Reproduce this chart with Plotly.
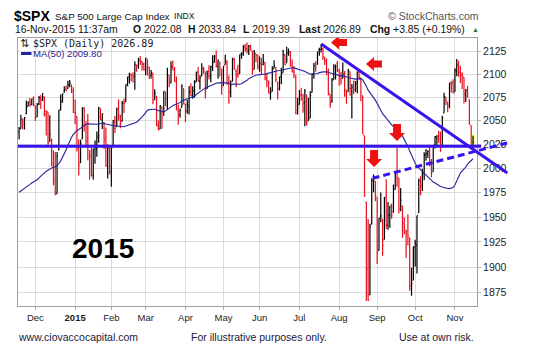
import numpy as np
import pandas as pd
import plotly.graph_objects as go

# ---------------- data ----------------
# trading days shown per month: Nov-2014 (partial) ... Nov-2015 (partial)
month_counts = [9, 22, 20, 19, 22, 21, 20, 22, 22, 21, 21, 22, 11]
month_labels = ["Dec", "<b>2015</b>", "Feb", "Mar", "Apr", "May", "Jun", "Jul",
                "Aug", "Sep", "Oct", "Nov"]
price_ticks = [1875, 1900, 1925, 1950, 1975, 2000, 2025, 2050, 2075, 2100, 2125]

# closes before the visible window (needed for the 50-day MA)
pre_closes = [1988.44, 1995.69, 1997.45, 1985.54, 1984.13, 1998.98, 2001.57, 2011.36, 2010.40, 1994.29,
              1982.77, 1998.30, 1965.99, 1982.85, 1977.80, 1972.29,
              1946.16, 1946.17, 1967.90, 1964.82, 1935.10, 1968.89, 1928.21, 1906.13, 1874.74, 1877.70,
              1862.49, 1862.76, 1886.76, 1904.01, 1941.28, 1927.11, 1950.82, 1964.58, 1961.63, 1985.05,
              1982.30, 1994.65, 2018.05,
              2017.81, 2012.10, 2023.57, 2031.21, 2031.92, 2038.26, 2039.68, 2038.25, 2039.33, 2039.82]

opens = [
    2038.3, 2041.5, 2051.2, 2045.9, 2057.5, 2065.1, 2070.1, 2067.4, 2074.8,
    2065.8, 2053.8, 2067.5, 2073.6, 2072.8, 2074.8, 2056.6, 2058.9, 2027.9, 2030.4, 2005.0, 1986.7, 1973.8, 2019.0, 2061.0, 2069.3, 2081.5, 2083.3, 2084.3, 2087.6, 2088.5, 2082.1,
    2058.9, 2054.4, 2022.2, 2005.6, 2030.6, 2063.5, 2046.1, 2031.6, 2018.4, 2013.8, 1992.3, 2020.8, 2020.2, 2034.3, 2062.9, 2050.4, 2047.9, 2032.3, 2002.5, 2019.4,
    1996.7, 2022.7, 2048.9, 2043.5, 2062.3, 2053.5, 2049.4, 2068.6, 2070.0, 2088.8, 2096.5, 2099.2, 2099.3, 2097.6, 2109.8, 2109.1, 2115.3, 2113.9, 2110.9,
    2105.2, 2115.8, 2107.7, 2098.5, 2100.9, 2072.2, 2076.1, 2044.7, 2041.1, 2064.6, 2055.4, 2080.6, 2072.8, 2098.7, 2090.3, 2108.0, 2103.9, 2093.1, 2059.9, 2055.8, 2064.1, 2084.1,
    2067.6, 2060.0, 2064.9, 2080.8, 2076.9, 2081.3, 2091.5, 2102.0, 2092.3, 2097.8, 2105.0, 2102.6, 2084.1, 2102.8, 2098.3, 2107.2, 2112.8, 2119.3, 2108.4, 2112.5, 2105.5,
    2087.4, 2110.2, 2112.6, 2091.3, 2080.0, 2092.1, 2115.6, 2102.9, 2099.6, 2100.4, 2122.1, 2121.3, 2129.5, 2127.8, 2125.6, 2130.4, 2125.3, 2105.1, 2122.3, 2120.7,
    2108.6, 2110.4, 2110.6, 2112.4, 2095.1, 2092.3, 2079.1, 2081.1, 2106.2, 2107.4, 2091.3, 2084.3, 2097.4, 2101.6, 2121.1, 2112.5, 2123.2, 2123.7, 2109.1, 2102.6, 2098.6, 2061.2,
    2067.0, 2078.0, 2073.0, 2069.5, 2077.7, 2049.7, 2052.7, 2080.0, 2099.7, 2109.0, 2110.5, 2126.8, 2126.9, 2127.2, 2118.2, 2114.2, 2102.2, 2078.2, 2070.8, 2094.0, 2106.8, 2111.6,
    2104.5, 2097.7, 2095.3, 2100.8, 2082.6, 2081.0, 2102.7, 2081.1, 2086.2, 2083.2, 2089.7, 2102.0, 2095.7, 2076.6, 2034.1, 1965.2, 1898.1, 1872.8, 1942.8, 1986.1, 1986.7,
    1970.1, 1916.5, 1950.8, 1947.8, 1927.3, 1971.5, 1941.6, 1951.5, 1963.1, 1955.1, 1978.0, 1995.3, 1989.7, 1960.8, 1961.4, 1943.2, 1934.8, 1935.9, 1929.2, 1881.9, 1887.1,
    1919.7, 1921.8, 1954.3, 1986.6, 1982.3, 1994.0, 2013.7, 2015.7, 2015.0, 2003.7, 1996.5, 2024.4, 2031.7, 2033.1, 2033.5, 2021.9, 2058.2, 2075.1, 2068.8, 2066.5, 2088.4, 2090.0,
    2080.8, 2102.6, 2110.6, 2101.7, 2098.6, 2096.6, 2077.2, 2083.4, 2072.3, 2044.6, 2022.1,
]
highs = [
    2043.1, 2056.1, 2052.1, 2053.8, 2071.5, 2070.2, 2074.2, 2073.3, 2075.8,
    2065.8, 2068.8, 2076.3, 2077.3, 2079.5, 2075.8, 2060.6, 2058.9, 2055.5, 2030.4, 2018.7, 2016.9, 2016.8, 2061.2, 2077.9, 2078.8, 2086.7, 2087.6, 2092.7, 2093.6, 2088.5, 2085.6,
    2072.4, 2054.4, 2030.3, 2029.6, 2064.1, 2064.4, 2049.3, 2056.9, 2018.4, 2021.4, 2020.5, 2028.9, 2038.3, 2064.6, 2062.9, 2057.6, 2047.9, 2042.5, 2024.6, 2023.3,
    2021.7, 2050.3, 2054.7, 2063.6, 2072.4, 2056.2, 2070.9, 2073.5, 2088.5, 2097.0, 2101.3, 2100.2, 2101.9, 2114.0, 2110.1, 2117.9, 2119.6, 2113.9, 2112.7,
    2117.5, 2115.8, 2107.7, 2104.3, 2100.9, 2083.5, 2076.1, 2050.1, 2066.4, 2064.6, 2081.4, 2080.6, 2106.9, 2098.7, 2113.9, 2114.9, 2107.6, 2097.4, 2067.2, 2062.8, 2089.0, 2084.1,
    2067.6, 2072.2, 2087.0, 2089.8, 2086.7, 2093.3, 2102.6, 2107.7, 2098.6, 2111.9, 2108.0, 2102.6, 2103.9, 2109.6, 2109.0, 2120.5, 2120.9, 2125.9, 2116.0, 2113.7, 2105.5,
    2108.4, 2121.0, 2115.2, 2098.4, 2092.9, 2117.7, 2117.7, 2105.1, 2110.2, 2121.5, 2123.9, 2131.8, 2133.0, 2134.7, 2131.8, 2132.2, 2125.3, 2126.2, 2122.3, 2120.7,
    2119.2, 2117.6, 2121.9, 2112.9, 2101.0, 2093.0, 2085.6, 2108.5, 2115.0, 2107.4, 2091.3, 2097.4, 2106.8, 2126.6, 2121.6, 2129.9, 2128.0, 2125.1, 2116.0, 2108.9, 2098.6, 2074.3,
    2082.8, 2085.1, 2078.6, 2083.7, 2077.7, 2074.3, 2081.3, 2100.7, 2112.0, 2114.1, 2124.4, 2128.9, 2132.8, 2128.9, 2118.5, 2116.9, 2106.0, 2078.2, 2095.6, 2110.6, 2110.5, 2114.2,
    2105.7, 2102.5, 2112.7, 2103.3, 2082.6, 2105.4, 2102.7, 2089.1, 2092.9, 2092.5, 2102.9, 2103.5, 2096.2, 2076.6, 2034.1, 1965.2, 1948.0, 1943.1, 1989.6, 1993.5, 1986.7,
    1970.1, 1948.9, 1975.0, 1947.8, 1970.4, 1988.6, 1965.3, 1961.1, 1963.1, 1983.2, 1997.3, 2020.9, 1989.7, 1979.6, 1961.4, 1949.5, 1937.2, 1952.9, 1929.2, 1899.5, 1920.5,
    1927.2, 1951.4, 1989.2, 1991.6, 1999.3, 2016.5, 2020.1, 2018.7, 2022.3, 2009.6, 2024.2, 2033.5, 2034.5, 2039.1, 2038.0, 2055.2, 2079.7, 2075.1, 2070.4, 2090.4, 2092.5, 2094.3,
    2106.2, 2116.5, 2114.6, 2108.8, 2101.9, 2096.6, 2083.7, 2086.9, 2072.3, 2044.6, 2033.8,
]
lows = [
    2030.2, 2041.5, 2040.4, 2040.5, 2056.8, 2065.1, 2064.8, 2066.4, 2065.1,
    2049.6, 2053.8, 2066.6, 2062.3, 2070.8, 2054.3, 2034.2, 2024.3, 2027.9, 2002.3, 1982.3, 1972.6, 1973.8, 2019.0, 2061.0, 2069.3, 2079.8, 2081.9, 2084.3, 2085.8, 2079.5, 2057.9,
    2046.0, 2017.3, 1992.4, 2005.6, 2030.6, 2038.3, 2022.6, 2008.3, 1988.4, 1991.5, 1988.1, 2004.5, 2012.0, 2026.4, 2050.5, 2040.9, 2019.9, 2001.5, 1989.2, 1993.4,
    1980.9, 2022.7, 2036.7, 2043.5, 2049.9, 2041.9, 2048.6, 2057.9, 2070.0, 2086.7, 2089.8, 2092.2, 2090.8, 2083.0, 2102.5, 2105.9, 2109.9, 2103.8, 2103.8,
    2098.7, 2098.3, 2094.5, 2095.2, 2067.3, 2072.2, 2044.2, 2039.7, 2041.1, 2041.2, 2055.4, 2065.1, 2061.2, 2085.6, 2090.3, 2104.4, 2091.5, 2061.1, 2045.5, 2053.0, 2064.1, 2067.0,
    2048.4, 2057.3, 2056.5, 2076.1, 2073.3, 2074.3, 2091.5, 2092.3, 2083.2, 2097.8, 2100.3, 2073.5, 2084.1, 2094.4, 2091.1, 2103.2, 2112.8, 2107.0, 2094.9, 2097.4, 2077.6,
    2087.4, 2110.2, 2088.5, 2067.9, 2075.0, 2092.1, 2104.6, 2085.6, 2096.0, 2100.4, 2116.8, 2120.0, 2124.5, 2122.6, 2120.9, 2126.1, 2099.2, 2105.1, 2112.9, 2104.9,
    2102.5, 2099.1, 2109.6, 2093.2, 2085.7, 2079.1, 2072.1, 2081.1, 2106.2, 2091.3, 2072.5, 2082.1, 2088.9, 2101.6, 2110.0, 2112.5, 2119.9, 2108.6, 2101.8, 2095.4, 2056.6, 2056.3,
    2067.0, 2071.0, 2058.4, 2044.0, 2044.7, 2049.7, 2052.7, 2080.0, 2095.0, 2102.5, 2110.5, 2119.9, 2123.7, 2115.4, 2110.0, 2098.6, 2077.1, 2063.5, 2069.1, 2094.0, 2094.1, 2102.1,
    2087.3, 2088.6, 2095.3, 2075.5, 2067.9, 2081.0, 2076.5, 2052.1, 2078.3, 2080.6, 2079.3, 2094.1, 2070.5, 2035.7, 1970.9, 1867.0, 1867.1, 1872.8, 1942.8, 1975.2, 1966.0,
    1903.1, 1916.5, 1944.7, 1911.2, 1927.3, 1937.9, 1937.2, 1939.2, 1948.3, 1954.3, 1977.9, 1980.9, 1953.5, 1955.8, 1929.2, 1932.6, 1908.9, 1921.5, 1876.9, 1871.9, 1887.1,
    1900.7, 1893.7, 1954.3, 1972.0, 1976.4, 1987.5, 2007.6, 2010.6, 2001.8, 1990.7, 1996.5, 2020.5, 2022.3, 2026.6, 2017.2, 2021.9, 2058.2, 2066.5, 2058.8, 2063.1, 2080.1, 2079.3,
    2080.8, 2097.5, 2097.0, 2090.4, 2083.7, 2068.2, 2069.9, 2074.9, 2045.7, 2022.0, 2019.4,
]
closes = [
    2041.3, 2051.8, 2048.7, 2052.8, 2063.5, 2069.4, 2067.0, 2072.8, 2067.6,
    2053.4, 2066.6, 2074.3, 2071.9, 2075.4, 2060.3, 2059.8, 2026.1, 2035.3, 2002.3, 1989.6, 1972.7, 2012.9, 2061.2, 2070.7, 2078.5, 2082.2, 2081.9, 2088.8, 2090.6, 2080.4, 2058.9,
    2058.2, 2020.6, 2002.6, 2025.9, 2062.1, 2044.8, 2028.3, 2023.0, 2011.3, 1992.7, 2019.4, 2022.6, 2032.1, 2063.2, 2051.8, 2057.1, 2029.6, 2002.2, 2021.3, 1995.0,
    2020.9, 2050.0, 2041.5, 2062.5, 2055.5, 2046.7, 2068.6, 2068.5, 2088.5, 2097.0, 2100.3, 2099.7, 2097.5, 2110.3, 2109.7, 2115.5, 2113.9, 2110.7, 2104.5,
    2117.4, 2107.8, 2098.5, 2101.0, 2071.3, 2079.4, 2044.2, 2040.2, 2066.0, 2053.4, 2081.2, 2074.3, 2099.5, 2089.3, 2108.1, 2104.4, 2091.5, 2061.1, 2056.2, 2061.0, 2086.2, 2067.9,
    2059.7, 2067.0, 2080.6, 2076.3, 2081.9, 2091.2, 2102.1, 2092.4, 2095.8, 2106.6, 2105.0, 2081.2, 2100.4, 2097.3, 2108.0, 2112.9, 2117.7, 2108.9, 2114.8, 2106.9, 2085.5,
    2108.3, 2114.5, 2089.5, 2080.2, 2088.0, 2116.1, 2105.3, 2099.1, 2098.5, 2121.1, 2122.7, 2129.2, 2127.8, 2125.9, 2130.8, 2126.1, 2104.2, 2123.5, 2120.8, 2107.4,
    2111.7, 2109.6, 2114.1, 2095.8, 2092.8, 2079.3, 2080.2, 2105.2, 2108.9, 2094.1, 2084.4, 2096.3, 2100.4, 2121.2, 2110.0, 2122.9, 2124.2, 2108.6, 2102.3, 2101.5, 2057.6, 2063.1,
    2077.4, 2076.8, 2068.8, 2081.3, 2046.7, 2051.3, 2076.6, 2099.6, 2109.0, 2107.4, 2124.3, 2126.6, 2128.3, 2119.2, 2114.2, 2102.2, 2079.7, 2067.6, 2093.3, 2108.6, 2108.6, 2103.8,
    2098.0, 2093.3, 2099.8, 2083.6, 2077.6, 2104.2, 2084.1, 2086.1, 2083.4, 2091.5, 2102.4, 2096.9, 2079.6, 2035.7, 1970.9, 1893.2, 1867.6, 1940.5, 1987.7, 1988.9, 1972.2,
    1913.9, 1948.9, 1951.1, 1921.2, 1969.4, 1942.0, 1952.3, 1961.1, 1953.0, 1978.1, 1995.3, 1990.2, 1958.0, 1967.0, 1942.7, 1938.8, 1932.2, 1931.3, 1881.8, 1884.1, 1920.0,
    1923.8, 1951.4, 1987.1, 1979.9, 1995.8, 2013.4, 2014.9, 2017.5, 2003.7, 1994.2, 2023.9, 2033.1, 2033.7, 2030.8, 2018.9, 2052.5, 2075.2, 2071.2, 2065.9, 2090.4, 2089.4, 2079.4,
    2104.1, 2109.8, 2102.3, 2099.9, 2099.2, 2078.6, 2081.7, 2075.0, 2046.0, 2023.0, 2026.9,
]

# hand-drawn annotations, in (trading-day index, price)
support_level = 2022.8
support_end_idx = 255.5
trend_line = [(167.0, 2133.0), (270.0, 1995.0)]
dashed_line = [(195.5, 1989.6), (270.0, 2026.3)]
arrows = [("left", 172.5, 2134.6), ("left", 191.8, 2111.0),
          ("down", 209.0, 2028.4), ("down", 196.3, 2001.2)]

# ---------------- figure ----------------
FONT = "Liberation Sans, Arial, sans-serif"
W, H = 533, 352
ML, MR, MT, MB = 18, 56, 38, 46
PW, PH = W - ML - MR, H - MT - MB
X0, X1 = -0.6, 253.2
Y0, Y1 = 1862.1, 2139.6

n = len(closes)
xs = list(range(n))
prev = [pre_closes[-1]] + closes[:-1]
up = [c >= p for c, p in zip(closes, prev)]

all_c = pd.Series(pre_closes + closes)
ma50 = all_c.rolling(50).mean().iloc[len(pre_closes):].tolist()

BLACK = "#000000"
RED = "#e8101e"
BLUE = "#3a12ee"


def ohlc(mask, color):
    ids = [i for i in range(n) if mask[i]]
    return go.Ohlc(
        x=[xs[i] for i in ids], open=[opens[i] for i in ids], high=[highs[i] for i in ids],
        low=[lows[i] for i in ids], close=[closes[i] for i in ids],
        increasing=dict(line=dict(color=color, width=1.2)),
        decreasing=dict(line=dict(color=color, width=1.2)),
        tickwidth=0.5, hoverinfo="skip", showlegend=False)


fig = go.Figure()
fig.add_trace(go.Scatter(x=xs, y=ma50, mode="lines", line=dict(color="#25259a", width=1.1),
                         hoverinfo="skip", showlegend=False))
fig.add_trace(ohlc(up, BLACK))
fig.add_trace(ohlc([not u for u in up], RED))


def px_x(px):
    return (px - ML) / PW


def px_y(py):
    return (MT + PH - py) / PH


def idx_paper(i):
    return (i - X0) / (X1 - X0)


shapes = []
# highlight of current bar
shapes.append(dict(type="rect", xref="x", yref="y", x0=n - 1 - 0.7, x1=n - 1 + 0.9,
                   y0=opens[-1], y1=highs[-1] + 1.5, fillcolor="#ffff55", line=dict(width=0),
                   layer="below"))
# support line
shapes.append(dict(type="line", xref="paper", yref="y", x0=0, x1=idx_paper(support_end_idx),
                   y0=support_level, y1=support_level, line=dict(color=BLUE, width=3)))
# trend line
shapes.append(dict(type="line", xref="paper", yref="y",
                   x0=idx_paper(trend_line[0][0]), y0=trend_line[0][1],
                   x1=idx_paper(trend_line[1][0]), y1=trend_line[1][1],
                   line=dict(color=BLUE, width=3)))
# dashed line
shapes.append(dict(type="line", xref="paper", yref="y",
                   x0=idx_paper(dashed_line[0][0]), y0=dashed_line[0][1],
                   x1=idx_paper(dashed_line[1][0]), y1=dashed_line[1][1],
                   line=dict(color=BLUE, width=3, dash="7px,4px")))
# red block arrows
LEFT_PATH = "M0,0 L8,7 L8,3.5 L16,3.5 L16,-3.5 L8,-3.5 L8,-7 Z"
DOWN_PATH = "M0,0 L-8,8 L-4,8 L-4,17 L4,17 L4,8 L8,8 Z"
for kind, i, p in arrows:
    shapes.append(dict(type="path", xref="paper", yref="y", xsizemode="pixel",
                       ysizemode="pixel", xanchor=idx_paper(i), yanchor=p,
                       path=LEFT_PATH if kind == "left" else DOWN_PATH,
                       fillcolor="#f01010", line=dict(width=0)))
# MA legend swatch
shapes.append(dict(type="line", xref="paper", yref="paper", x0=px_x(21), x1=px_x(31.5),
                   y0=px_y(53.5), y1=px_y(53.5), line=dict(color="#25259a", width=3)))

annotations = []


def txt(text, x, y, size=10.5, color="#111111", family=FONT, xanchor="left"):
    annotations.append(dict(text=text, x=px_x(x), y=px_y(y), xref="paper", yref="paper",
                            xanchor=xanchor, yanchor="middle", showarrow=False,
                            borderpad=0, borderwidth=0,
                            font=dict(size=size, color=color, family=family)))


txt("<b>$SPX</b>", 14, 16, size=14, color="#000")
txt("S&amp;P 500 Large Cap Index", 54.5, 16.5, size=9.9)
txt("INDX", 174, 16.5, size=8.6)
txt("© StockCharts.com", 387.5, 16, size=10.5, color="#555555")
txt("16-Nov-2015 11:37am", 14.5, 30, size=10.4)
txt("<b>O</b> 2022.08", 133, 30, size=10.4)
txt("<b>H</b> 2033.84", 188, 30, size=10.4)
txt("<b>L</b> 2019.39", 243, 30, size=10.4)
txt("<b>Last</b> 2026.89", 299, 30, size=10.4)
txt("<b>Chg</b> +3.85 (+0.19%)", 370, 30, size=10.4)
txt("▲", 471.5, 30, size=7, color="#1f7a1f")
txt("⇅", 19.5, 43, size=11, color="#222222", family="DejaVu Sans, sans-serif")
txt("$SPX (Daily) 2026.89", 32.5, 43, size=10, color="#222222",
    family="DejaVu Sans Mono, monospace")
txt("MA(50) 2009.80", 32.5, 53.5, size=9.6, color="#1c1c8c")
txt("<b>2015</b>", 103, 248, size=28, color="#000", xanchor="center")
txt("www.ciovaccocapital.com", 18, 337, size=10.5, color="#1a1a40")
txt("For illustrative purposes only.", 190.5, 337, size=10.5, color="#1a1a40")
txt("Use at own risk.", 399, 337, size=10.5, color="#1a1a40")

tick_pos = list(np.cumsum(month_counts)[:-1])

fig.update_layout(
    width=W, height=H, margin=dict(l=ML, r=MR, t=MT, b=MB, pad=0),
    paper_bgcolor="white", plot_bgcolor="white", showlegend=False,
    font=dict(family=FONT, color="#222222"),
    shapes=shapes, annotations=annotations,
    xaxis=dict(type="linear", range=[X0, X1], tickvals=tick_pos, ticktext=month_labels,
               showgrid=True, gridcolor="#dcdcdc", gridwidth=1, zeroline=False,
               showline=True, linecolor="#a0a0a0", linewidth=1, mirror=True,
               ticks="outside", ticklen=3, tickcolor="#b0b0b0",
               tickfont=dict(size=9.5, color="#222222"), rangeslider=dict(visible=False),
               fixedrange=True),
    yaxis=dict(type="log", range=[np.log10(Y0), np.log10(Y1)], side="right",
               tickvals=price_ticks, ticktext=[str(v) for v in price_ticks],
               showgrid=True, gridcolor="#dcdcdc", gridwidth=1, zeroline=False,
               showline=True, linecolor="#a0a0a0", linewidth=1, mirror=True,
               ticks="outside", ticklen=3, tickcolor="#b0b0b0",
               tickfont=dict(size=10.5, color="#222222"), fixedrange=True),
)

fig.write_html("out.html", config=dict(displayModeBar=False))
